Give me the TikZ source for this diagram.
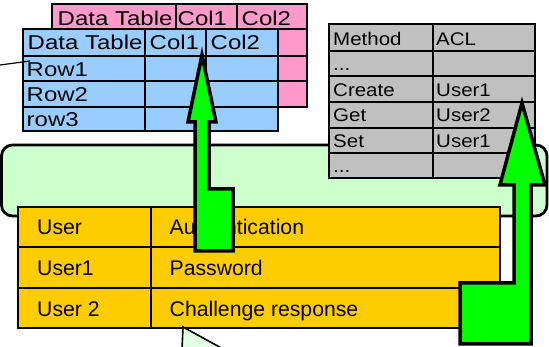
\documentclass[tikz,border=0pt]{standalone}
\usepackage{fontspec}
\setmainfont{Liberation Sans}
\newfontfamily\wideA[FakeStretch=1.2]{Liberation Sans}
\newfontfamily\wideB[FakeStretch=1.12]{Liberation Sans}
\newcommand\mydots{...}
\definecolor{pinkc}{HTML}{FF99CC}
\definecolor{bluec}{HTML}{99CCFF}
\definecolor{grayc}{HTML}{C0C0C0}
\definecolor{orangec}{HTML}{FFCC00}
\definecolor{panelc}{HTML}{CCFFCC}
\definecolor{arrowc}{HTML}{00FF00}
\definecolor{calloutc}{HTML}{E2FFE2}
\tikzset{
  gridcell/.style={draw=black, line width=1.4pt},
  btxt/.style={anchor=base west, inner sep=0pt, font=\wideA\fontsize{20}{21}\selectfont},
  gtxt/.style={anchor=base west, inner sep=0pt, font=\wideB\fontsize{18.3}{19}\selectfont},
  otxt/.style={anchor=base west, inner sep=0pt, font=\fontsize{21.2}{22}\selectfont},
  bigarrow/.style={fill=arrowc, draw=black, line width=3.5pt, line join=miter, miter limit=20},
}
\begin{document}
\begin{tikzpicture}[x=1pt,y=-1pt]
\useasboundingbox (0,0) rectangle (549,347);

% ---- pink table (back)
\draw[gridcell, fill=pinkc] (52,4) rectangle (176,29);
\node[btxt] (pA) at (57.5,26) {Data Table};
\draw[gridcell, fill=pinkc] (176,4) rectangle (237,29);
\node[btxt] (pB) at (177.5,26) {Col1};
\draw[gridcell, fill=pinkc] (237,4) rectangle (307,29);
\node[btxt] (pC) at (241.5,26) {Col2};
\foreach \ya/\yb in {29/56,56/81,81/107}{
  \draw[gridcell, fill=pinkc] (52,\ya) rectangle (176,\yb);
  \draw[gridcell, fill=pinkc] (176,\ya) rectangle (237,\yb);
  \draw[gridcell, fill=pinkc] (237,\ya) rectangle (307,\yb);
}

% ---- blue table (front)
\draw[gridcell, fill=bluec] (23,29) rectangle (145,56);
\node[btxt] (bA) at (27.5,50) {Data Table};
\draw[gridcell, fill=bluec] (145,29) rectangle (206,56);
\node[btxt] (bB) at (149.5,50) {Col1};
\draw[gridcell, fill=bluec] (206,29) rectangle (278,56);
\node[btxt] (bC) at (210.5,50) {Col2};
\foreach \ya/\yb/\t/\bl in {56/81/Row1/77,81/107/Row2/101.5,107/131/row3/126.5}{
  \draw[gridcell, fill=bluec] (23,\ya) rectangle (145,\yb);
  \node[btxt] at (26.5,\bl) {\t};
  \draw[gridcell, fill=bluec] (145,\ya) rectangle (206,\yb);
  \draw[gridcell, fill=bluec] (206,\ya) rectangle (278,\yb);
}
\coordinate (lineS) at (0,65);
\coordinate (lineE) at (30,61);
\draw[line width=1.2pt] (lineS) -- (lineE);

% ---- green panel
\draw[fill=panelc, line width=2.8pt, rounded corners=11pt] (1.5,145) rectangle (547,216);

% ---- gray table
\foreach \ya/\yb/\ta/\tb/\bl in {24/51/Method/ACL/46, 51/76/\mydots/{}/71, 76/102/Create/User1/96.5, 102/128/Get/User2/121.5, 128/153/Set/User1/147.3, 153/178/\mydots/{}/173}{
  \draw[gridcell, fill=grayc] (329,\ya) rectangle (433,\yb);
  \draw[gridcell, fill=grayc] (433,\ya) rectangle (535,\yb);
  \node[gtxt] at (333,\bl) {\ta};
  \node[gtxt] at (436,\bl) {\tb};
}

% ---- orange table
\foreach \ya/\yb/\ta/\tb/\bl in {207/247/User/Authentication/235, 247/288/User1/Password/276, 288/328/User 2/Challenge response/316.5}{
  \draw[gridcell, line width=1.8pt, fill=orangec] (18,\ya) rectangle (151,\yb);
  \draw[gridcell, line width=1.8pt, fill=orangec] (151,\ya) rectangle (500,\yb);
  \node[otxt] at (37,\bl) {\ta};
  \node[otxt] at (169.5,\bl) {\tb};
}

% ---- callout pointer
\fill[calloutc] (183,327) -- (182,350) -- (225,350) -- cycle;
\draw[line width=1.6pt] (182,350) -- (183,327) -- (225,350);

% ---- bent-up arrows
\draw[bigarrow] (202,55) -- (216,122) -- (209,122) -- (209,189) -- (233,189)
  -- (233,251) -- (195,251) -- (195,122) -- (188,122) -- cycle;
\draw[bigarrow] (522,103) -- (545,185) -- (531,185) -- (531,344) -- (460,344)
  -- (460,283) -- (514,283) -- (514,185) -- (500,185) -- cycle;
\end{tikzpicture}
\end{document}
